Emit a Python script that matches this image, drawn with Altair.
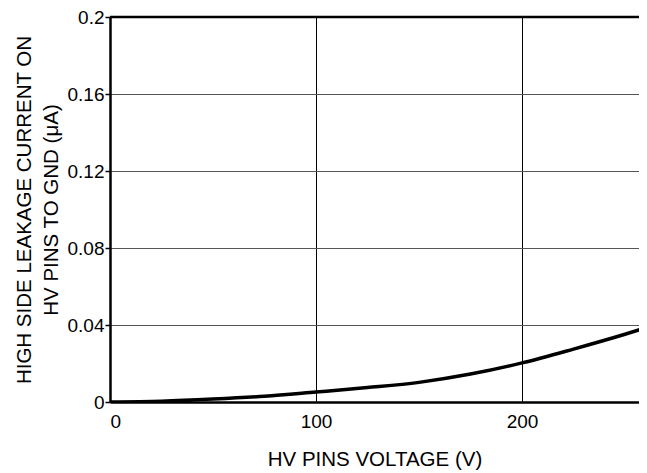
import altair as alt
import pandas as pd

voltage = [0, 25, 50, 75, 100, 125, 150, 175, 200, 225, 250, 260]
current = [0.0, 0.0004, 0.0015, 0.003, 0.0052, 0.0075, 0.0102, 0.0145, 0.0203, 0.0275, 0.0352, 0.0385]
x_ticks = [0, 100, 200]
y_ticks = [0, 0.04, 0.08, 0.12, 0.16, 0.2]

df = pd.DataFrame({"v": voltage, "i": current})

FONT = "Liberation Sans"
XMAX = 256.8

base = alt.Chart(df)

line = base.mark_line(color="black", strokeWidth=3.5, interpolate="monotone", clip=True).encode(
    x=alt.X("v:Q", scale=alt.Scale(domain=[0, XMAX], nice=False, zero=True),
            axis=alt.Axis(values=x_ticks, title="HV PINS VOLTAGE (V)", format="d",
                          grid=True, gridColor="black", gridWidth=1,
                          domainColor="black", domainWidth=2.5, ticks=False,
                          labelPadding=10, titlePadding=18)),
    y=alt.Y("i:Q", scale=alt.Scale(domain=[0, 0.2], nice=False),
            axis=alt.Axis(values=y_ticks,
                          labelExpr="datum.value == 0 ? '0' : format(datum.value, '.2~f')",
                          title=["HIGH SIDE LEAKAGE CURRENT ON", "HV PINS TO GND (\u03bcA)"],
                          grid=True, gridColor="#555", gridWidth=1.2,
                          domainColor="black", domainWidth=2.5, ticks=True, tickSize=5,
                          tickColor="black", tickWidth=1.5, labelPadding=1, titlePadding=6,
                          titleLineHeight=27)),
)

top = alt.Chart(pd.DataFrame({"y": [0.2]})).mark_rule(color="black", strokeWidth=2.5).encode(
    y=alt.Y("y:Q", scale=alt.Scale(domain=[0, 0.2], nice=False))
)

chart = alt.layer(line, top).properties(
    width=529, height=385,
    autosize=alt.AutoSizeParams(type="none"),
    padding={"left": 102, "top": 9, "right": 0, "bottom": 70},
).configure(
    background="white"
).configure_view(
    stroke=None
).configure_axis(
    labelFont=FONT, titleFont=FONT, labelFontSize=19, titleFontSize=20.5,
    titleFontWeight="normal", labelColor="black", titleColor="black",
)

chart.save("out.html", embed_options={"renderer": "svg", "actions": False})
